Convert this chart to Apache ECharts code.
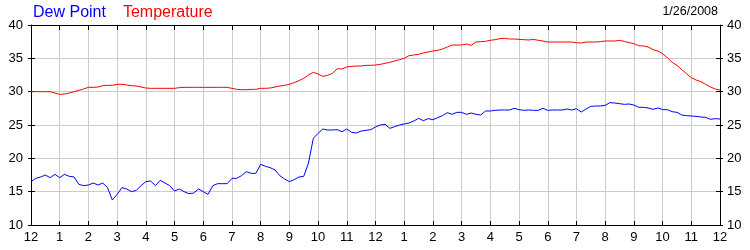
<!DOCTYPE html>
<html>
<head>
<meta charset="utf-8">
<script src="https://cdn.jsdelivr.net/npm/echarts@6/dist/echarts.min.js"></script>
<style>
html,body{margin:0;padding:0;background:#fff;}
#chart{width:750px;height:250px;}
</style>
</head>
<body>
<div id="chart"></div>
<script>
// Hour tick labels (every hour, midnight to midnight)
var hourLabels = ['12','1','2','3','4','5','6','7','8','9','10','11','12','1','2','3','4','5','6','7','8','9','10','11','12'];
var yTicks = [10, 15, 20, 25, 30, 35, 40];
var dateLabel = '1/26/2008';
var seriesNames = ['Dew Point', 'Temperature'];

// 10-minute readings, 00:00 to 24:00 (145 values)
var temperature = [
  30.0,30.0,30.0,30.0,30.0,29.8,
  29.6,29.65,29.8,30.0,30.2,30.4,
  30.65,30.65,30.7,30.9,30.95,30.95,
  31.1,31.1,31.0,30.9,30.85,30.7,
  30.55,30.5,30.5,30.5,30.5,30.5,
  30.5,30.6,30.65,30.65,30.65,30.65,
  30.65,30.65,30.65,30.65,30.65,30.65,
  30.5,30.35,30.3,30.3,30.35,30.35,
  30.5,30.5,30.55,30.7,30.85,30.95,
  31.1,31.35,31.65,32.0,32.5,32.9,
  32.65,32.3,32.45,32.75,33.45,33.4,
  33.7,33.8,33.85,33.85,33.95,33.95,
  34.0,34.1,34.25,34.4,34.6,34.8,
  35.0,35.4,35.5,35.6,35.8,35.95,
  36.1,36.2,36.4,36.7,37.0,37.0,
  37.0,37.15,36.95,37.45,37.5,37.55,
  37.7,37.8,37.95,38.0,37.9,37.9,
  37.85,37.8,37.75,37.85,37.7,37.6,
  37.45,37.45,37.45,37.45,37.45,37.45,
  37.35,37.3,37.45,37.45,37.45,37.5,
  37.6,37.6,37.6,37.7,37.55,37.35,
  37.2,36.9,36.85,36.7,36.3,36.1,
  35.7,35.1,34.4,33.95,33.3,32.7,
  32.1,31.75,31.5,31.1,30.7,30.4,
  30.25
];
var dewPoint = [
  16.5,17.0,17.2,17.5,17.1,17.6,
  17.1,17.6,17.3,17.2,16.1,15.9,
  16.0,16.3,16.0,16.3,15.6,13.75,
  14.6,15.6,15.4,15.0,15.2,15.9,
  16.5,16.6,15.9,16.7,16.3,15.9,
  15.1,15.4,15.0,14.7,14.8,15.4,
  15.0,14.6,15.9,16.2,16.2,16.2,
  17.0,17.0,17.4,18.0,17.75,17.75,
  19.1,18.8,18.6,18.25,17.4,16.9,
  16.5,16.8,17.2,17.3,19.3,23.0,
  23.75,24.4,24.25,24.25,24.3,24.0,
  24.4,23.9,23.8,24.1,24.2,24.3,
  24.7,25.0,25.1,24.5,24.75,25.0,
  25.15,25.3,25.6,26.0,25.65,25.95,
  25.8,26.1,26.4,26.85,26.6,26.9,
  26.9,26.6,26.8,26.6,26.5,27.1,
  27.1,27.2,27.25,27.25,27.25,27.5,
  27.3,27.2,27.25,27.2,27.2,27.5,
  27.2,27.25,27.25,27.25,27.4,27.25,
  27.45,26.95,27.4,27.8,27.85,27.85,
  27.95,28.35,28.3,28.2,28.1,28.15,
  28.0,27.65,27.65,27.55,27.35,27.55,
  27.3,27.3,27.0,26.9,26.5,26.4,
  26.35,26.3,26.2,26.15,25.85,25.95,
  25.9
];

var categories = [];
for (var i = 0; i < temperature.length; i++) {
  var mins = i * 10;
  categories.push(Math.floor(mins / 60) + ':' + ('0' + (mins % 60)).slice(-2));
}

var FONT = 'Liberation Sans, Arial, sans-serif';
var GRID_COLOR = '#cccccc';

function hourFmt(v, idx) { return idx % 6 === 0 ? hourLabels[idx / 6] : ''; }

var chart = echarts.init(document.getElementById('chart'), null, {renderer: 'canvas'});
var yBase = {
  type: 'value', min: yTicks[0], max: yTicks[yTicks.length - 1], interval: 5
};
chart.setOption({
  animation: false,
  backgroundColor: '#ffffff',
  textStyle: {fontFamily: FONT},
  legend: {
    left: 23, top: 0, padding: 5,
    icon: 'none', itemWidth: 0, itemHeight: 14, itemGap: 12,
    selectedMode: false,
    textStyle: {fontSize: 16, fontFamily: FONT},
    data: [
      {name: seriesNames[0], textStyle: {color: '#0000ff'}},
      {name: seriesNames[1], textStyle: {color: '#ff0000'}}
    ]
  },
  graphic: [{
    type: 'text', right: 32, top: 5,
    style: {text: dateLabel, fill: '#000', font: '12.5px ' + FONT}
  }],
  grid: {left: 31, right: 30, top: 25, bottom: 25, containLabel: false},
  xAxis: [{
    type: 'category', data: categories, boundaryGap: false, position: 'bottom',
    axisLine: {lineStyle: {color: '#000', width: 1}},
    axisTick: {inside: true, length: 4, interval: 5, lineStyle: {color: '#000'}},
    axisLabel: {interval: 5, formatter: hourFmt, color: '#000', fontSize: 13, fontFamily: FONT, margin: 6},
    splitLine: {show: true, interval: 5, lineStyle: {color: GRID_COLOR, width: 1}}
  }, {
    type: 'category', data: categories, boundaryGap: false, position: 'top',
    axisLine: {lineStyle: {color: '#000', width: 1}},
    axisTick: {inside: true, length: 5, interval: 5, lineStyle: {color: '#000'}},
    axisLabel: {show: false},
    splitLine: {show: false}
  }],
  yAxis: [
    Object.assign({}, yBase, {
      position: 'left',
      axisLine: {show: true, lineStyle: {color: '#000'}},
      axisTick: {show: true, length: 3, lineStyle: {color: '#000'}},
      axisLabel: {color: '#000', fontSize: 13, fontFamily: FONT, margin: 8},
      splitLine: {show: true, lineStyle: {color: GRID_COLOR, width: 1}}
    }),
    Object.assign({}, yBase, {
      position: 'right',
      axisLine: {show: true, lineStyle: {color: '#000'}},
      axisTick: {show: true, length: 3, lineStyle: {color: '#000'}},
      axisLabel: {color: '#000', fontSize: 13, fontFamily: FONT, margin: 7},
      splitLine: {show: false}
    }),
    Object.assign({}, yBase, {
      position: 'left',
      axisLine: {show: false},
      axisTick: {show: true, inside: true, length: 4, lineStyle: {color: '#000'}},
      axisLabel: {show: false},
      splitLine: {show: false}
    }),
    Object.assign({}, yBase, {
      position: 'right',
      axisLine: {show: false},
      axisTick: {show: true, inside: true, length: 4, lineStyle: {color: '#000'}},
      axisLabel: {show: false},
      splitLine: {show: false}
    })
  ],
  series: [{
    name: seriesNames[0], type: 'line', data: dewPoint,
    xAxisIndex: 0, yAxisIndex: 0,
    showSymbol: false, symbol: 'none', smooth: false,
    lineStyle: {color: '#0000ff', width: 1},
    itemStyle: {color: '#0000ff'}, z: 3
  }, {
    name: seriesNames[1], type: 'line', data: temperature,
    xAxisIndex: 0, yAxisIndex: 0,
    showSymbol: false, symbol: 'none', smooth: false,
    lineStyle: {color: '#ff0000', width: 1},
    itemStyle: {color: '#ff0000'}, z: 3
  }]
});
</script>
</body>
</html>
